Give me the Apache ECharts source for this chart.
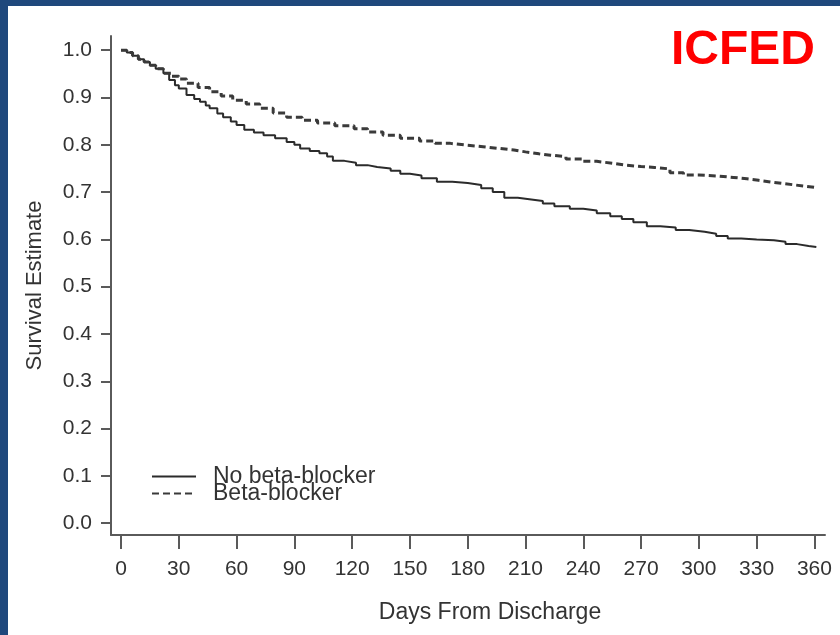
<!DOCTYPE html>
<html>
<head>
<meta charset="utf-8">
<script src="https://cdn.jsdelivr.net/npm/echarts@6/dist/echarts.min.js"></script>
<style>
  html, body { margin: 0; padding: 0; background: #1f487c; }
  #panel { position: absolute; left: 8px; top: 6px; right: 0; bottom: 0; background: #ffffff; }
  #chart { position: absolute; left: 0; top: 0; width: 840px; height: 635px; }
</style>
</head>
<body>
<div id="panel"></div>
<div id="chart"></div>
<script>
// Kaplan-Meier survival after discharge, by beta-blocker use
const seriesNames = ['No beta-blocker', 'Beta-blocker'];

// No beta-blocker: event days and survival estimate after each step
const noBbDays = [0, 3, 6, 9, 12, 15, 18, 22, 25, 28, 30, 34, 38, 41, 44, 46, 50, 53, 57, 60,
  64, 69, 74, 80, 86, 90, 93, 98, 103, 107, 110, 116, 122, 128, 133, 140, 145, 150, 156, 164,
  172, 180, 187, 193, 199, 206, 212, 219, 225, 233, 240, 247, 254, 260, 266, 273, 280, 288, 295, 303,
  309, 315, 322, 330, 339, 345, 351, 357, 361];
const noBbSurv = [1.0, 0.995, 0.988, 0.981, 0.975, 0.968, 0.961, 0.951, 0.937, 0.926, 0.919, 0.905, 0.897, 0.891, 0.883, 0.877, 0.866, 0.858, 0.849, 0.842,
  0.832, 0.826, 0.820, 0.814, 0.806, 0.800, 0.792, 0.787, 0.782, 0.775, 0.766, 0.762, 0.757, 0.753, 0.750, 0.745, 0.739, 0.735, 0.729, 0.722,
  0.719, 0.715, 0.708, 0.700, 0.688, 0.685, 0.681, 0.676, 0.670, 0.665, 0.661, 0.655, 0.649, 0.643, 0.636, 0.628, 0.625, 0.620, 0.616, 0.612,
  0.607, 0.602, 0.600, 0.598, 0.595, 0.590, 0.586, 0.584, 0.583];

// Beta-blocker
const bbDays = [0, 3, 6, 9, 12, 15, 18, 22, 26, 30, 34, 40, 46, 52, 58, 65, 72, 79, 86, 94,
  102, 111, 121, 128, 136, 145, 155, 163, 171, 180, 188, 197, 204, 210, 217, 223, 231, 240, 247, 255,
  262, 270, 277, 285, 292, 300, 310, 318, 325, 331, 338, 344, 350, 356, 360];
const bbSurv = [1.0, 0.995, 0.988, 0.981, 0.975, 0.968, 0.961, 0.951, 0.945, 0.939, 0.930, 0.921, 0.912, 0.903, 0.894, 0.886, 0.877, 0.867, 0.858, 0.852,
  0.846, 0.840, 0.834, 0.827, 0.820, 0.814, 0.808, 0.803, 0.799, 0.796, 0.792, 0.789, 0.785, 0.781, 0.778, 0.775, 0.770, 0.765, 0.761, 0.757,
  0.754, 0.752, 0.749, 0.741, 0.736, 0.734, 0.731, 0.728, 0.725, 0.721, 0.718, 0.715, 0.712, 0.710, 0.708];

// Tick positions
const xTicks = [0, 30, 60, 90, 120, 150, 180, 210, 240, 270, 300, 330, 360];
const yTicks = [0, 0.1, 0.2, 0.3, 0.4, 0.5, 0.6, 0.7, 0.8, 0.9, 1.0];

const FONT = '"Liberation Sans", Arial, Helvetica, sans-serif';
const AXIS_COLOR = '#5a5a5a';
const TEXT_COLOR = '#333333';

function pairs(xs, ys) { return xs.map((x, i) => [x, ys[i]]); }

const chart = echarts.init(document.getElementById('chart'), null, { renderer: 'canvas' });

chart.setOption({
  backgroundColor: 'transparent',
  animation: false,
  title: {
    text: 'ICFED',
    right: 20,
    top: 22,
    textStyle: { color: '#ff0000', fontSize: 48, fontWeight: 'bold', fontFamily: FONT }
  },
  legend: {
    orient: 'vertical',
    left: 146,
    top: 460,
    itemWidth: 44,
    itemHeight: 14,
    itemGap: -6,
    data: seriesNames,
    itemStyle: { opacity: 0 },
    textStyle: { fontSize: 23, color: TEXT_COLOR, fontFamily: FONT, padding: [0, 0, 0, 12] }
  },
  grid: { left: 111, right: 15, top: 36, bottom: 100, containLabel: false },
  xAxis: {
    type: 'value',
    min: -5.2,
    max: 365.5,
    name: 'Days From Discharge',
    nameLocation: 'middle',
    nameGap: 66,
    nameTextStyle: { fontSize: 23, color: TEXT_COLOR, fontFamily: FONT, padding: [0, 0, 0, 44] },
    axisLine: { onZero: false, lineStyle: { color: AXIS_COLOR, width: 2 } },
    axisTick: { customValues: xTicks, length: 14, lineStyle: { color: AXIS_COLOR, width: 2 } },
    axisLabel: { customValues: xTicks, margin: 24, fontSize: 21, color: TEXT_COLOR, fontFamily: FONT },
    splitLine: { show: false }
  },
  yAxis: {
    type: 'value',
    min: -0.025,
    max: 1.03,
    name: 'Survival Estimate',
    nameLocation: 'middle',
    nameGap: 65,
    nameTextStyle: { fontSize: 22, color: TEXT_COLOR, fontFamily: FONT },
    axisLine: { show: true, onZero: false, lineStyle: { color: AXIS_COLOR, width: 2 } },
    axisTick: { show: true, customValues: yTicks, length: 10, lineStyle: { color: AXIS_COLOR, width: 2 } },
    axisLabel: {
      customValues: yTicks, margin: 19, fontSize: 21, color: TEXT_COLOR, fontFamily: FONT,
      formatter: v => v.toFixed(1)
    },
    splitLine: { show: false }
  },
  series: [
    {
      name: seriesNames[0],
      type: 'line',
      step: 'end',
      symbol: 'none',
      data: pairs(noBbDays, noBbSurv),
      lineStyle: { color: '#2b2b2b', width: 2 },
      itemStyle: { color: '#2b2b2b' }
    },
    {
      name: seriesNames[1],
      type: 'line',
      step: 'end',
      symbol: 'none',
      data: pairs(bbDays, bbSurv),
      lineStyle: { color: '#3a3a3a', width: 3, type: [7, 4] },
      itemStyle: { color: '#3a3a3a' }
    }
  ]
});
</script>
</body>
</html>
